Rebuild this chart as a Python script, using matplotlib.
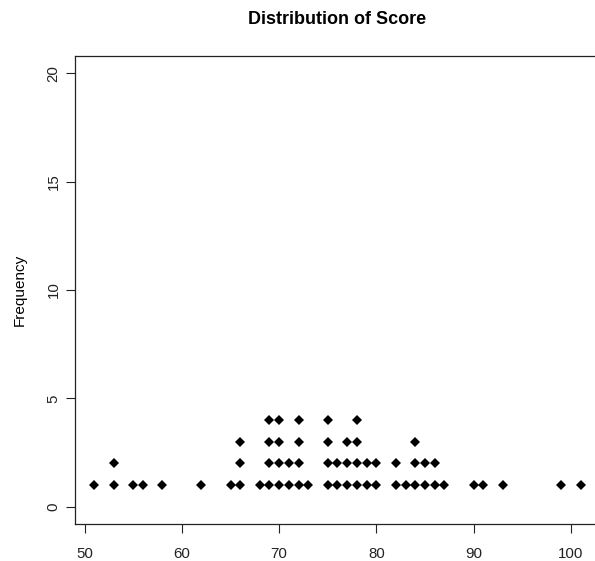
import matplotlib
matplotlib.use('Agg')
import matplotlib.pyplot as plt
import numpy as np

plt.rcParams['font.family'] = ['Liberation Sans', 'DejaVu Sans']

# scores and how many times each was observed
SCORES = [51, 53, 55, 56, 58, 62, 65, 66, 68, 69, 70, 71, 72, 73, 75, 76, 77,
          78, 79, 80, 82, 83, 84, 85, 86, 87, 90, 91, 93, 99, 101]
COUNTS = [1, 2, 1, 1, 1, 1, 1, 3, 1, 4, 4, 2, 4, 1, 4, 2, 3,
          4, 2, 2, 2, 1, 3, 2, 2, 1, 1, 1, 1, 1, 1]
X_TICKS = [50, 60, 70, 80, 90, 100]
Y_TICKS = [0, 5, 10, 15, 20]

# stacked dot plot: one dot per observation
xs, ys = [], []
for s, c in zip(SCORES, COUNTS):
    for k in range(1, c + 1):
        xs.append(s)
        ys.append(k)

W, H = 595, 561
fig = plt.figure(figsize=(W / 100, H / 100), dpi=100)
ax = fig.add_axes([75 / W, (H - 524) / H, (600 - 75) / W, (524 - 56) / H])

ax.plot(xs, ys, linestyle='none', marker='D', markersize=4.7,
        color='black', markeredgewidth=0)

ax.set_xlim(49, 103)
ax.set_ylim(-0.8, 20.8)
ax.set_xticks(X_TICKS)
ax.set_yticks(Y_TICKS)
ax.set_yticklabels([str(t) for t in Y_TICKS], rotation=90, va='center')
ax.tick_params(direction='out', length=6.5, width=0.8, labelsize=10.8,
               colors='#222222')
ax.tick_params(axis='x', pad=10)
ax.tick_params(axis='y', pad=4)

# box is open on the right: it runs past the edge of the image
ax.spines['right'].set_visible(False)
for sp in ax.spines.values():
    sp.set_linewidth(0.9)
    sp.set_color('#222222')

ax.set_ylabel('Frequency', fontsize=11, labelpad=14)
fig.text(337.5 / W, 1 - 20 / H, 'Distribution of Score', ha='center',
         va='center', fontsize=13, fontweight='bold')

fig.savefig('out.png', dpi=100)
